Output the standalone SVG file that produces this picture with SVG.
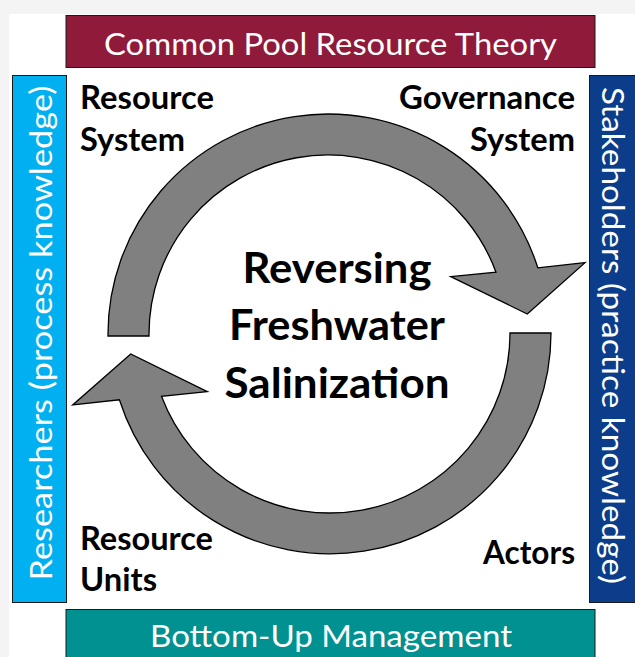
<svg xmlns="http://www.w3.org/2000/svg" width="635" height="657" viewBox="0 0 635 657">
<style>
.bar{stroke:#1a1a1a;stroke-width:1}
.bt{font-family:Lato,"Open Sans","Liberation Sans",sans-serif;font-size:31.5px;fill:#fff}
.lb{font-family:Lato,"Open Sans","Liberation Sans",sans-serif;font-size:31.5px;font-weight:bold;fill:#000}
.tt{font-family:Lato,"Open Sans","Liberation Sans",sans-serif;font-size:42px;font-weight:bold;fill:#000}
.arr{fill:#808080;stroke:#000;stroke-width:1.3;stroke-linejoin:miter}
</style>
<rect x="0" y="0" width="635" height="657" fill="#f4f4f4"/>
<rect x="9" y="14" width="626" height="643" fill="#fff"/>
<g id="connectors">
<path class="arr" d="M 108 336 L 108 334 A 220 220 0 0 1 537.8 267.8 L 585 262.7 L 527.3 314 L 450.7 276.7 L 496 272.2 A 179 179 0 0 0 149 334 L 149 336 Z"/>
<path class="arr" d="M 510 333 L 551 333 A 221 221 0 0 1 119.4 399.8 L 72.7 405 L 130.7 354 L 207.3 391.7 L 161.5 396.3 A 180 180 0 0 0 510 333 Z"/>
</g>
<g id="theory">
<rect class="bar" x="66" y="15.5" width="529" height="52" fill="#8f1a3a"/>
<text class="bt" x="330.5" y="55" text-anchor="middle" textLength="453" lengthAdjust="spacingAndGlyphs">Common Pool Resource Theory</text>
</g>
<g id="management">
<rect class="bar" x="66" y="609.5" width="529" height="52" fill="#009190"/>
<text class="bt" x="331" y="647" text-anchor="middle" textLength="362" lengthAdjust="spacingAndGlyphs">Bottom-Up Management</text>
</g>
<g id="researchers">
<rect class="bar" x="12.5" y="75.5" width="54" height="527" fill="#00b0f0"/>
<text class="bt" transform="translate(52,333) rotate(-90)" text-anchor="middle" textLength="495" lengthAdjust="spacingAndGlyphs">Researchers (process knowledge)</text>
</g>
<g id="stakeholders">
<rect class="bar" x="589.5" y="75.5" width="50" height="527" fill="#0b3d8a"/>
<text class="bt" transform="translate(602,335.5) rotate(90)" text-anchor="middle" textLength="497" lengthAdjust="spacingAndGlyphs">Stakeholders (practice knowledge)</text>
</g>
<g id="resource-system">
<text class="lb" x="80" y="109" textLength="134" lengthAdjust="spacingAndGlyphs">Resource</text>
<text class="lb" x="80" y="151" textLength="105" lengthAdjust="spacingAndGlyphs">System</text>
</g>
<g id="governance-system">
<text class="lb" x="575" y="109" text-anchor="end" textLength="176" lengthAdjust="spacingAndGlyphs">Governance</text>
<text class="lb" x="575" y="151" text-anchor="end" textLength="105" lengthAdjust="spacingAndGlyphs">System</text>
</g>
<g id="resource-units">
<text class="lb" x="80" y="550" textLength="133" lengthAdjust="spacingAndGlyphs">Resource</text>
<text class="lb" x="80" y="591" textLength="77" lengthAdjust="spacingAndGlyphs">Units</text>
</g>
<g id="actors">
<text class="lb" x="575" y="564" text-anchor="end" textLength="92" lengthAdjust="spacingAndGlyphs">Actors</text>
</g>
<g id="title">
<text class="tt" x="337" y="283" text-anchor="middle" textLength="189" lengthAdjust="spacingAndGlyphs">Reversing</text>
<text class="tt" x="337" y="340" text-anchor="middle" textLength="216" lengthAdjust="spacingAndGlyphs">Freshwater</text>
<text class="tt" x="337" y="398" text-anchor="middle" textLength="225" lengthAdjust="spacingAndGlyphs">Salinization</text>
</g>
</svg>
